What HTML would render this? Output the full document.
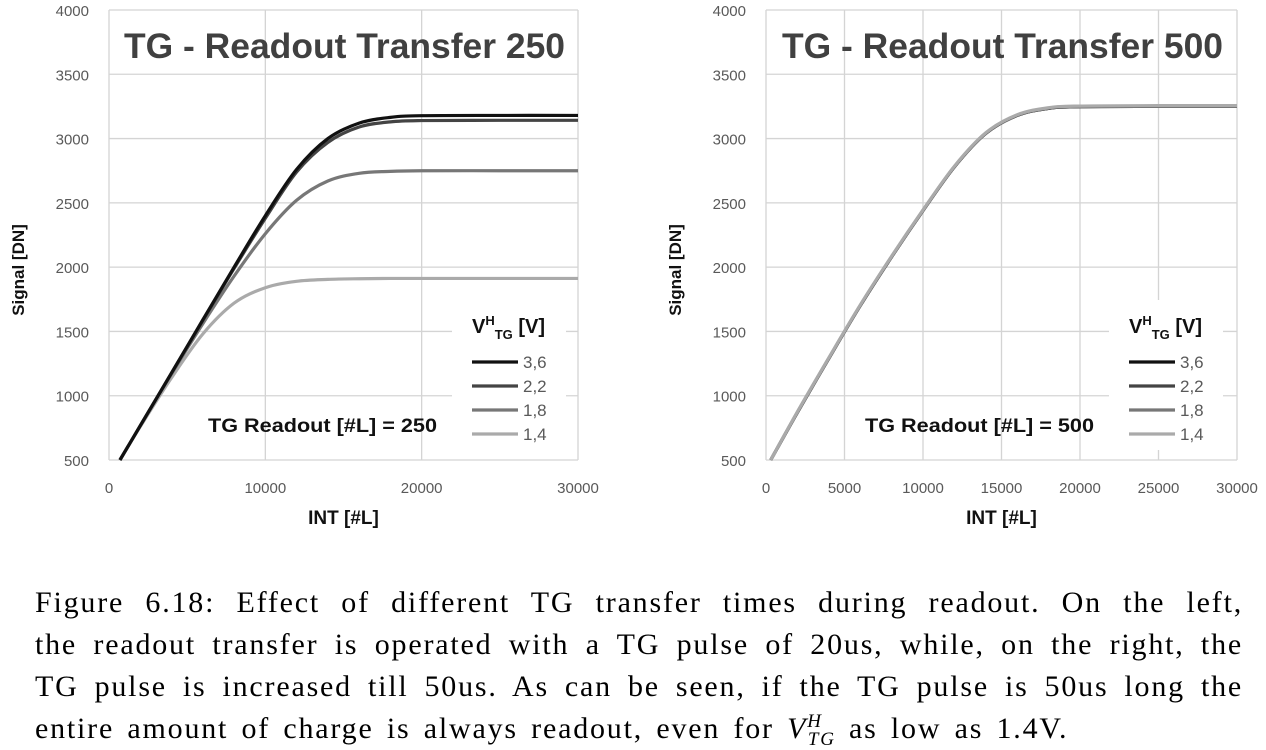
<!DOCTYPE html>
<html><head><meta charset="utf-8"><style>
html,body{margin:0;padding:0;background:#fff;}
body{width:1266px;height:749px;overflow:hidden;position:relative;}
svg{position:absolute;left:0;top:0;}
.cap{position:absolute;left:35px;width:1208px;font-family:"Liberation Serif",serif;font-size:30px;letter-spacing:1.8px;color:#000;line-height:42px;white-space:nowrap;}
.j{text-align:justify;text-align-last:justify;}
</style></head><body>
<svg id="chart" width="1266" height="560" font-family="Liberation Sans, sans-serif"></svg>
<div class="cap j" style="top:582px">Figure 6.18: Effect of different TG transfer times during readout. On the left,</div>
<div class="cap j" style="top:624px">the readout transfer is operated with a TG pulse of 20us, while, on the right, the</div>
<div class="cap j" style="top:666px">TG pulse is increased till 50us. As can be seen, if the TG pulse is 50us long the</div>
<div class="cap" style="top:708px;word-spacing:4px">entire amount of charge is always readout, even for <i>V</i><sup style="font-size:19px;font-style:italic;line-height:0">H</sup><sub style="font-size:19px;font-style:italic;margin-left:-15px;line-height:0">TG</sub> as low as 1.4V.</div>
<script>
const yTicks=[500,1000,1500,2000,2500,3000,3500,4000];
const xTicksL=[0,10000,20000,30000];
const xTicksR=[0,5000,10000,15000,20000,25000,30000];
const seriesNames=["3,6","2,2","1,8","1,4"];
const seriesColors=["#111","#444","#777","#aaa"];
const xsL=[700,2000,4000,6000,8000,10000,12000,14000,16000,18000,20000,25000,30000];
const l36=[500,767,1177,1590,2000,2400,2760,3000,3120,3165,3178,3180,3180];
const l22=[500,767,1177,1585,1990,2380,2740,2970,3090,3130,3140,3142,3142];
const l18=[500,767,1170,1560,1930,2260,2520,2670,2730,2745,2750,2750,2750];
const l14=[500,760,1140,1480,1720,1840,1890,1905,1910,1912,1912,1912,1912];
const xsR=[300,2000,4000,6000,8000,10000,12000,14000,16000,18000,20000,25000,30000];
const r36=[500,870,1290,1700,2080,2440,2780,3040,3180,3235,3248,3250,3250];
const r22=[500,870,1290,1700,2080,2440,2780,3040,3180,3235,3248,3250,3250];
const r18=[500,872,1292,1702,2082,2442,2782,3042,3182,3237,3250,3252,3252];
const r14=[500,875,1295,1705,2085,2445,2785,3045,3185,3240,3253,3256,3256];

const NS="http://www.w3.org/2000/svg";
const svg=document.getElementById('chart');
function mk(tag,attrs,parent){const e=document.createElementNS(NS,tag);for(const k in attrs)e.setAttribute(k,attrs[k]);(parent||svg).appendChild(e);return e;}
function smooth(pts){let d=`M${pts[0][0]},${pts[0][1]}`;for(let i=0;i<pts.length-1;i++){const p0=pts[i-1]||pts[i],p1=pts[i],p2=pts[i+1],p3=pts[i+2]||p2;
d+=` C${p1[0]+(p2[0]-p0[0])/6},${p1[1]+(p2[1]-p0[1])/6} ${p2[0]-(p3[0]-p1[0])/6},${p2[1]-(p3[1]-p1[1])/6} ${p2[0]},${p2[1]}`;}return d;}

function chart(cfg){
  const g=mk('g',{});
  
  
  const X=v=>cfg.x0+(v/30000)*(cfg.x1-cfg.x0);
  const Y=v=>460-(v-500)/3500*450;
  cfg.xt.forEach(t=>{const l=mk('line',{x1:X(t),x2:X(t),y1:10,y2:460,stroke:'#d4d4d4','stroke-width':1.3},g);
    
    const tx=mk('text',{x:X(t),y:493,'text-anchor':'middle','font-size':15,fill:'#595959'},g);tx.textContent=t;
    });
  yTicks.forEach(t=>{const l=mk('line',{x1:cfg.x0,x2:cfg.x1,y1:Y(t),y2:Y(t),stroke:'#d4d4d4','stroke-width':1.3},g);
    
    const tx=mk('text',{x:cfg.x0-20,y:Y(t)+6,'text-anchor':'end','font-size':15,fill:'#595959'},g);tx.textContent=t;
    });
  const box=mk('rect',{x:cfg.x0+343,y:300,width:114,height:150,fill:'#fff'},g);
  
  const t=mk('text',{x:(cfg.x0+cfg.x1)/2+1,y:58,'text-anchor':'middle','font-size':35,'font-weight':'bold',fill:'#404040',textLength:cfg.tl,lengthAdjust:'spacingAndGlyphs'},g);
  t.textContent=cfg.title;
  const ann=mk('text',{x:cfg.x0+99,y:432,'font-size':19,'font-weight':'bold',fill:'#111',textLength:229,lengthAdjust:'spacingAndGlyphs'},g);
  ann.textContent=cfg.ann;
  const yt=mk('text',{transform:`translate(${cfg.x0-85},270) rotate(-90)`,'text-anchor':'middle','font-size':17,'font-weight':'bold',fill:'#111'},g);
  yt.textContent='Signal [DN]';
  const xt=mk('text',{x:(cfg.x0+cfg.x1)/2,y:524,'text-anchor':'middle','font-size':19,'font-weight':'bold',fill:'#111'},g);
  xt.textContent='INT [#L]';
  const order=cfg.darkFirst?[0,1,2,3]:[3,2,1,0];
  order.forEach(i=>{
    const pts=cfg.xs.map((x,j)=>[X(x),Y(cfg.data[i][j])]);
    const p=mk('path',{d:smooth(pts),fill:'none',stroke:seriesColors[i],'stroke-width':3.2},g);
    
    
  });
  const lt=mk('text',{x:cfg.x0+363,y:333,'font-size':20,'font-weight':'bold',fill:'#111'},g);
  lt.innerHTML='V<tspan dy="-8" font-size="13">H</tspan><tspan dy="14" font-size="13">TG</tspan><tspan dy="-6"> [V]</tspan>';
  
  seriesNames.forEach((n,i)=>{const y=362+i*24;
    const l=mk('line',{x1:cfg.x0+363,x2:cfg.x0+409,y1:y,y2:y,stroke:seriesColors[i],'stroke-width':3.2},g);
    
    const tx=mk('text',{x:cfg.x0+414,y:y+6,'font-size':17,fill:'#595959'},g);tx.textContent=n;
    });
}
chart({name:'left-chart',x0:109,x1:578,xt:xTicksL,title:'TG - Readout Transfer 250',tl:441,ann:'TG Readout [#L] = 250',xs:xsL,data:[l36,l22,l18,l14],darkFirst:false});
chart({name:'right-chart',x0:766,x1:1237,xt:xTicksR,title:'TG - Readout Transfer 500',tl:441,ann:'TG Readout [#L] = 500',xs:xsR,data:[r36,r22,r18,r14],darkFirst:true});
</script>
</body></html>
